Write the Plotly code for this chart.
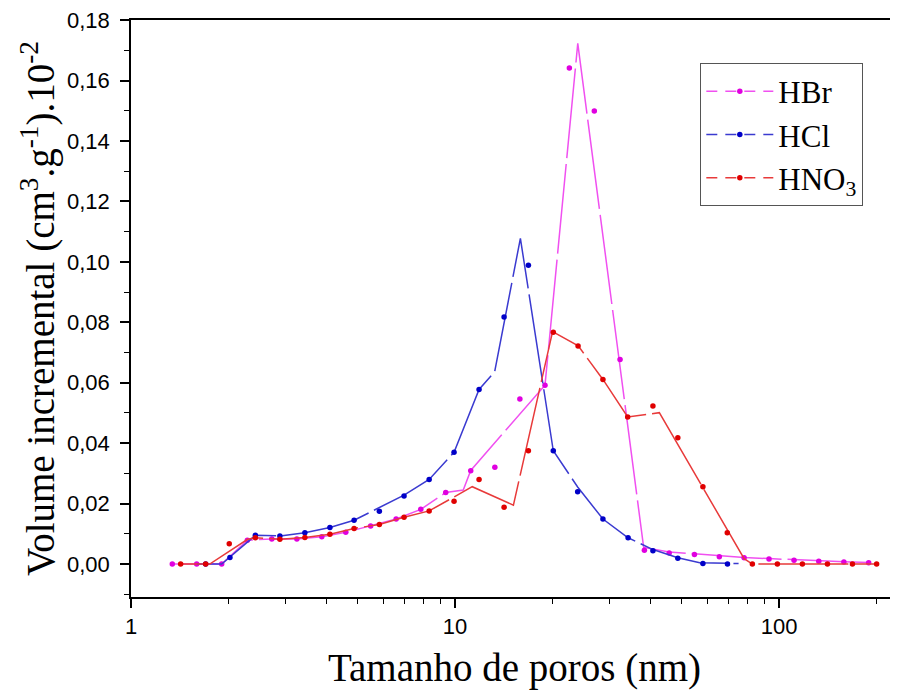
import plotly.graph_objects as go

# ---------------- data ----------------
hbr_pts_x = [1.341, 1.595, 1.905, 2.286, 2.72, 3.25, 3.88, 4.60, 5.49, 6.58, 7.84, 9.36, 11.18,
             13.27, 15.85, 18.95, 22.53, 26.9, 32.3, 38.4, 45.8, 54.8, 65.4, 78, 93.1, 111.2,
             132.6, 158.5, 189]
hbr_pts_y = [0, 0, 0, 0.0079, 0.0083, 0.0083, 0.0090, 0.0105, 0.0126, 0.0149, 0.0181, 0.0237, 0.0309,
             0.0320, 0.0546, 0.0592, 0.1642, 0.1499, 0.0677, 0.0046, 0.0037, 0.0032, 0.0024, 0.0021,
             0.0017, 0.0013, 0.0009, 0.0007, 0.0004]
hbr_line_x = [1.341, 1.905, 2.286, 2.72, 3.25, 3.88, 4.60, 5.49, 6.58, 7.84, 9.36, 10.6, 11.18,
              18.95, 23.92, 38.2, 45.8, 54.8, 65.4, 78, 93.1, 111.2, 132.6, 158.5, 189]
hbr_line_y = [0, 0, 0.0079, 0.0083, 0.0083, 0.0090, 0.0105, 0.0126, 0.0149, 0.0181, 0.0237, 0.0245, 0.0310,
              0.0592, 0.1723, 0.0055, 0.0040, 0.0034, 0.0027, 0.0022, 0.0018, 0.0014, 0.0010, 0.0008, 0.0005]

hcl_pts_x = [1.70, 2.02, 2.42, 2.88, 3.44, 4.11, 4.88, 5.84, 6.96, 8.32, 9.93, 11.86, 14.17, 16.84,
             20.1, 23.9, 28.6, 34.2, 40.8, 48.7, 58.2, 69.3]
hcl_pts_y = [0, 0.0022, 0.0095, 0.0093, 0.0104, 0.0121, 0.0145, 0.0175, 0.0225, 0.0280, 0.0370, 0.0578,
             0.0818, 0.0989, 0.0375, 0.0239, 0.0149, 0.0087, 0.0044, 0.0019, 0.0002, 0]
hcl_line_x = [1.595, 1.905, 2.42, 2.88, 3.44, 4.11, 4.88, 6.96, 8.32, 9.93, 11.86, 13.25, 15.91,
              20.1, 23.9, 28.6, 34.2, 40.8, 48.7, 56.9, 75]
hcl_line_y = [0, 0, 0.0095, 0.0093, 0.0104, 0.0121, 0.0145, 0.0228, 0.0280, 0.0370, 0.0578, 0.0636, 0.1078,
              0.0375, 0.0255, 0.0149, 0.0087, 0.0048, 0.0021, 0.0004, 0.0002]

hno3_pts_x = [1.423, 1.70, 2.01, 2.42, 2.88, 3.44, 4.11, 4.88, 5.84, 6.96, 8.32, 9.93, 11.86, 14.17,
              16.84, 20.1, 23.97, 28.6, 34.1, 40.8, 48.7, 58.2, 69.2, 82.7, 98.8, 118, 141, 168.4, 200]
hno3_pts_y = [0, 0, 0.0067, 0.0087, 0.0082, 0.0088, 0.0099, 0.0118, 0.0131, 0.0155, 0.0176, 0.0208, 0.0280,
              0.0188, 0.0375, 0.0767, 0.0722, 0.0611, 0.0487, 0.0523, 0.0418, 0.0256, 0.0104, 0, 0, 0, 0, 0, 0]
hno3_line_x = [1.423, 1.75, 2.29, 2.42, 2.88, 3.44, 4.11, 4.88, 5.84, 6.96, 8.32, 11.3, 15.14, 20.0,
               24.0, 28.6, 34.1, 42.7, 78, 82.7, 200]
hno3_line_y = [0, 0, 0.0082, 0.0087, 0.0082, 0.0088, 0.0099, 0.0118, 0.0131, 0.0155, 0.0176, 0.0256, 0.0195,
               0.0769, 0.0722, 0.0611, 0.0487, 0.0501, 0.0018, 0, 0]

series = [
    ("HBr", hbr_line_x, hbr_line_y, hbr_pts_x, hbr_pts_y, "#F050F0", "#E000E0"),
    ("HCl", hcl_line_x, hcl_line_y, hcl_pts_x, hcl_pts_y, "#3A3AD0", "#0000C8"),
    ("HNO<sub>3</sub>", hno3_line_x, hno3_line_y, hno3_pts_x, hno3_pts_y, "#E83A3A", "#E00000"),
]

y_tick_vals = [0.00, 0.02, 0.04, 0.06, 0.08, 0.10, 0.12, 0.14, 0.16, 0.18]
x_tick_vals = [1, 10, 100]
x_minor_vals = [2, 3, 4, 5, 6, 7, 8, 9, 20, 30, 40, 50, 60, 70, 80, 90, 200]

fig = go.Figure()
for name, lx, ly, px, py, lc, mc in series:
    fig.add_trace(go.Scatter(x=lx, y=ly, mode="lines", showlegend=False,
                             line=dict(color=lc, width=1.5, dash="90px,6px"), hoverinfo="skip"))
    fig.add_trace(go.Scatter(x=px, y=py, mode="markers", showlegend=False,
                             marker=dict(color=mc, size=5.5)))
for name, lx, ly, px, py, lc, mc in series:
    fig.add_trace(go.Scatter(x=[None], y=[None], mode="lines+markers", name=name,
                             line=dict(color=lc, width=1.5, dash="11px,8px"),
                             marker=dict(color=mc, size=5.5)))

fig.update_layout(
    width=890, height=687,
    margin=dict(l=123, r=0, t=12, b=98),
    paper_bgcolor="white", plot_bgcolor="white",
    separators=",.",
    showlegend=True,
    legend=dict(x=0.742, y=0.925, xanchor="left", yanchor="top",
                bgcolor="white", bordercolor="#555", borderwidth=1.2,
                font=dict(family="Liberation Serif", size=31, color="black"),
                itemwidth=67),
    font=dict(family="Liberation Sans", color="black"),
)
fig.update_xaxes(
    type="log", range=[0, 2.367], automargin=False,
    showline=True, linecolor="black", linewidth=1.5, mirror=True,
    showgrid=False, zeroline=False, ticklabeloverflow="allow",
    tickmode="array", tickvals=x_tick_vals, ticktext=[str(v) for v in x_tick_vals],
    ticks="outside", ticklen=9, tickwidth=1.5, tickcolor="black",
    tickfont=dict(family="Liberation Sans", size=22),
    minor=dict(tickmode="array", tickvals=x_minor_vals, ticks="outside", ticklen=5,
               tickwidth=1.2, tickcolor="black", showgrid=False),
    title=dict(text="Tamanho de poros (nm)", font=dict(family="Liberation Serif", size=39), standoff=16),
)
fig.update_yaxes(
    range=[-0.0109, 0.18005], automargin=False,
    showline=True, linecolor="black", linewidth=1.5,
    showgrid=False, zeroline=False, ticklabeloverflow="allow",
    tickmode="array", tickvals=y_tick_vals, tickformat=".2f",
    ticks="outside", ticklen=9, tickwidth=1.5, tickcolor="black", ticklabelstandoff=6,
    tickfont=dict(family="Liberation Sans", size=22),
    minor=dict(dtick=0.01, tick0=0, ticks="outside", ticklen=5, tickwidth=1.2,
               tickcolor="black", showgrid=False),
    title=dict(text="Volume incremental (cm<sup>3</sup>.g<sup>-1</sup>).10<sup>-2</sup>",
               font=dict(family="Liberation Serif", size=39), standoff=0),
)

fig.write_html("out.html")
